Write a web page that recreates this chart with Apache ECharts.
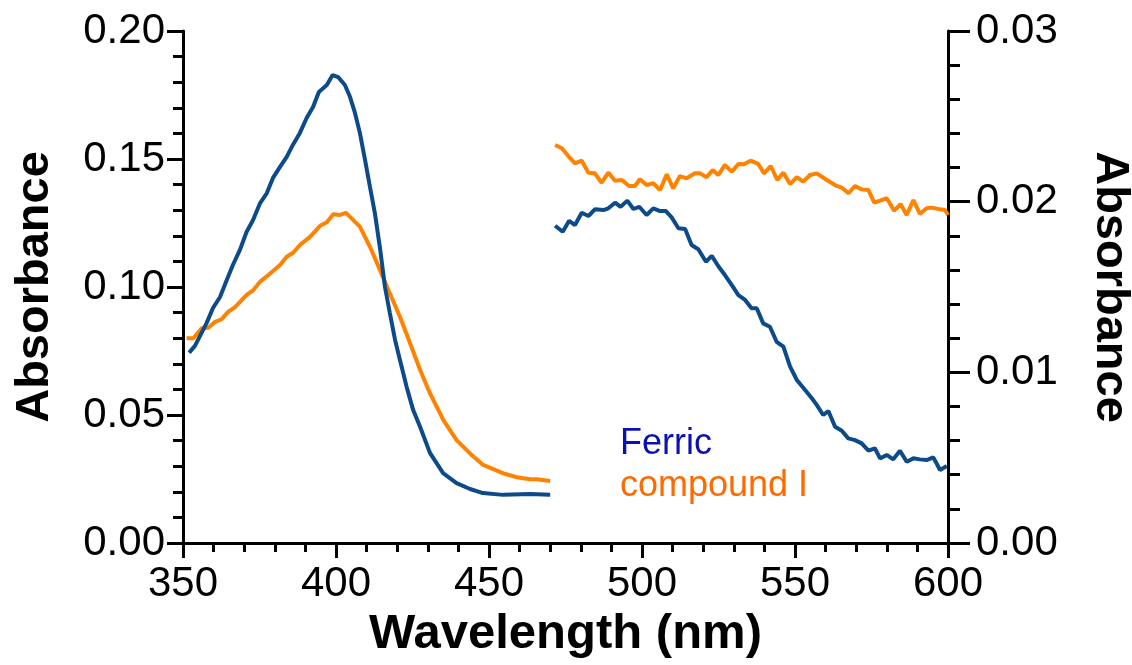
<!DOCTYPE html>
<html>
<head>
<meta charset="utf-8">
<script src="https://cdn.jsdelivr.net/npm/echarts@6/dist/echarts.min.js"></script>
<style>
html,body{margin:0;padding:0;background:#fff;overflow:hidden;width:100%;height:100%;}
#chart{width:1132px;height:665px;}
</style>
</head>
<body>
<div id="chart"></div>
<script>
// Soret region (left axis), [wavelength nm, absorbance]
const ferricSoret = [[352.0,0.0743],[353.9,0.0770],[357.7,0.0859],[359.8,0.0918],[362.1,0.0961],[364.3,0.1027],[366.3,0.1086],[368.6,0.1145],[370.8,0.1216],[372.9,0.1262],[375.2,0.1328],[377.4,0.1367],[379.4,0.1426],[381.7,0.1469],[383.9,0.1508],[385.9,0.1555],[388.2,0.1602],[390.4,0.1660],[392.5,0.1703],[394.4,0.1762],[397.0,0.1789],[398.9,0.1828],[400.7,0.1820],[402.9,0.1789],[404.6,0.1742],[406.2,0.1680],[407.8,0.1602],[409.5,0.1496],[411.1,0.1391],[412.7,0.1289],[414.4,0.1150],[416.0,0.1000],[417.6,0.0898],[419.3,0.0793],[420.9,0.0715],[423.1,0.0609],[425.2,0.0520],[427.5,0.0453],[430.7,0.0352],[435.0,0.0273],[439.4,0.0234],[443.8,0.0211],[448.0,0.0195],[454.6,0.0188],[463.4,0.0191],[470.0,0.0188]];
const compISoret = [[351.2,0.0800],[353.4,0.0800],[356.1,0.0839],[358.3,0.0841],[360.5,0.0864],[362.6,0.0874],[364.8,0.0904],[367.0,0.0921],[370.8,0.0969],[373.0,0.0988],[375.2,0.1021],[377.9,0.1047],[381.7,0.1086],[383.9,0.1118],[386.0,0.1134],[388.2,0.1164],[391.5,0.1196],[394.8,0.1239],[397.0,0.1253],[399.1,0.1284],[401.1,0.1281],[403.2,0.1290],[405.1,0.1268],[407.8,0.1236],[411.1,0.1157],[414.4,0.1066],[417.6,0.0975],[420.9,0.0884],[424.2,0.0780],[427.5,0.0676],[430.7,0.0585],[435.1,0.0480],[439.4,0.0402],[443.8,0.0350],[448.1,0.0305],[454.7,0.0272],[459.1,0.0257],[463.4,0.0249],[465.6,0.0249],[470.0,0.0242]];
// Visible region (right axis)
const ferricVisible = [[471.6,0.01859],[474.1,0.01824],[476.2,0.01888],[478.1,0.01863],[480.3,0.01935],[482.5,0.01916],[484.6,0.01955],[487.4,0.01951],[489.0,0.01961],[491.2,0.01994],[493.0,0.01970],[495.2,0.02006],[497.2,0.01957],[499.1,0.01970],[501.5,0.01922],[503.7,0.01961],[505.9,0.01945],[507.8,0.01945],[509.7,0.01908],[511.9,0.01844],[514.1,0.01840],[516.2,0.01746],[518.4,0.01721],[520.9,0.01648],[522.8,0.01682],[524.9,0.01623],[527.1,0.01570],[529.3,0.01512],[531.5,0.01453],[533.7,0.01424],[535.8,0.01375],[537.5,0.01375],[539.6,0.01287],[541.8,0.01267],[544.0,0.01179],[546.2,0.01150],[548.4,0.01033],[550.6,0.00955],[553.3,0.00896],[555.5,0.00848],[557.1,0.00809],[559.2,0.00750],[560.9,0.00773],[563.1,0.00681],[565.3,0.00658],[567.4,0.00613],[569.6,0.00603],[571.8,0.00584],[574.0,0.00541],[576.1,0.00555],[577.8,0.00496],[580.0,0.00516],[582.1,0.00490],[584.3,0.00541],[586.5,0.00476],[588.7,0.00496],[590.8,0.00490],[593.0,0.00486],[595.2,0.00502],[597.4,0.00428],[599.6,0.00451]];
const compIVisible = [[471.6,0.02332],[473.8,0.02313],[475.9,0.02267],[478.1,0.02225],[480.3,0.02240],[482.5,0.02170],[484.6,0.02166],[486.8,0.02111],[489.0,0.02170],[491.2,0.02123],[493.4,0.02127],[495.8,0.02092],[497.7,0.02092],[499.3,0.02131],[501.5,0.02098],[503.7,0.02108],[505.9,0.02068],[508.1,0.02160],[510.2,0.02078],[512.4,0.02150],[514.6,0.02137],[517.3,0.02166],[519.0,0.02166],[521.1,0.02143],[523.1,0.02185],[524.9,0.02156],[527.1,0.02215],[529.3,0.02176],[531.5,0.02221],[533.3,0.02219],[535.5,0.02240],[538.0,0.02221],[539.9,0.02166],[542.1,0.02209],[544.2,0.02127],[546.2,0.02170],[548.4,0.02103],[550.6,0.02143],[552.7,0.02117],[554.9,0.02156],[557.1,0.02166],[560.4,0.02127],[563.6,0.02092],[565.3,0.02082],[567.5,0.02049],[569.6,0.02092],[571.8,0.02072],[574.0,0.02068],[575.9,0.01994],[577.8,0.02006],[580.0,0.02020],[582.4,0.01947],[584.5,0.01986],[586.5,0.01922],[588.7,0.02010],[590.8,0.01928],[593.0,0.01961],[594.7,0.01965],[597.4,0.01955],[599.0,0.01951],[600.0,0.01922]];

const seriesNames = ['Ferric', 'compound I'];
const xTitle = 'Wavelength (nm)';
const yTitle = 'Absorbance';

const lineBlue = '#0c4a8a';
const lineOrange = '#ff8200';
const FONT = '"Liberation Sans", Arial, Helvetica, sans-serif';

const chart = echarts.init(document.getElementById('chart'), null, {renderer: 'canvas', width: 1132, height: 665});

function axisCommon() {
  return {
    axisLine: {show: true, onZero: false, lineStyle: {color: '#000', width: 3}},
    splitLine: {show: false},
    minorSplitLine: {show: false},
  };
}

const option = {
  backgroundColor: '#fff',
  animation: false,
  grid: {left: 183, right: 184, top: 31, bottom: 122, containLabel: false, outerBoundsMode: 'none'},
  xAxis: Object.assign(axisCommon(), {
    type: 'value', min: 350, max: 600, interval: 50,
    axisTick: {show: true, inside: false, length: 15, lineStyle: {color: '#000', width: 3}},
    minorTick: {show: true, splitNumber: 5, length: 9, lineStyle: {color: '#000', width: 3}},
    axisLabel: {color: '#000', fontSize: 42, fontFamily: FONT, margin: 20},
    name: xTitle, nameLocation: 'middle', nameGap: 67,
    nameTextStyle: {color: '#000', fontSize: 49, fontWeight: 'bold', fontFamily: FONT}
  }),
  yAxis: [
    Object.assign(axisCommon(), {
      type: 'value', position: 'left', min: 0, max: 0.2, interval: 0.05,
      axisTick: {show: true, inside: false, length: 16, lineStyle: {color: '#000', width: 3}},
      minorTick: {show: true, splitNumber: 5, length: 10, lineStyle: {color: '#000', width: 3}},
      axisLabel: {color: '#000', fontSize: 42, fontFamily: FONT, margin: 18, formatter: v => v.toFixed(2)},
      name: yTitle, nameLocation: 'middle', nameGap: 124, nameRotate: 90,
      nameTextStyle: {color: '#000', fontSize: 47, fontWeight: 'bold', fontFamily: FONT}
    }),
    Object.assign(axisCommon(), {
      type: 'value', position: 'right', min: 0, max: 0.03, interval: 0.01,
      axisTick: {show: true, inside: false, length: 22, lineStyle: {color: '#000', width: 3}},
      minorTick: {show: true, splitNumber: 5, length: 12, lineStyle: {color: '#000', width: 3}},
      axisLabel: {color: '#000', fontSize: 42, fontFamily: FONT, margin: 28, formatter: v => v.toFixed(2)},
      name: yTitle, nameLocation: 'middle', nameGap: 138, nameRotate: -90,
      nameTextStyle: {color: '#000', fontSize: 47, fontWeight: 'bold', fontFamily: FONT}
    })
  ],
  series: [
    {name: seriesNames[0], type: 'line', yAxisIndex: 0, data: ferricSoret, showSymbol: false, smooth: false,
     lineStyle: {color: lineBlue, width: 4}, itemStyle: {color: lineBlue}, z: 3},
    {name: seriesNames[1], type: 'line', yAxisIndex: 0, data: compISoret, showSymbol: false, smooth: false,
     lineStyle: {color: lineOrange, width: 4}, itemStyle: {color: lineOrange}, z: 2},
    {name: seriesNames[0] + ' vis', type: 'line', yAxisIndex: 1, data: ferricVisible, showSymbol: false, smooth: false,
     lineStyle: {color: lineBlue, width: 4}, itemStyle: {color: lineBlue}, z: 3},
    {name: seriesNames[1] + ' vis', type: 'line', yAxisIndex: 1, data: compIVisible, showSymbol: false, smooth: false,
     lineStyle: {color: lineOrange, width: 4}, itemStyle: {color: lineOrange}, z: 2}
  ],
  graphic: [
    {type: 'text', left: 620, top: 426, style: {text: seriesNames[0], fill: '#0a10b8', fontSize: 36, fontFamily: FONT}},
    {type: 'text', left: 620, top: 468, style: {text: seriesNames[1], fill: '#ff6a00', fontSize: 36, fontFamily: FONT}}
  ]
};
chart.setOption(option);
</script>
</body>
</html>
